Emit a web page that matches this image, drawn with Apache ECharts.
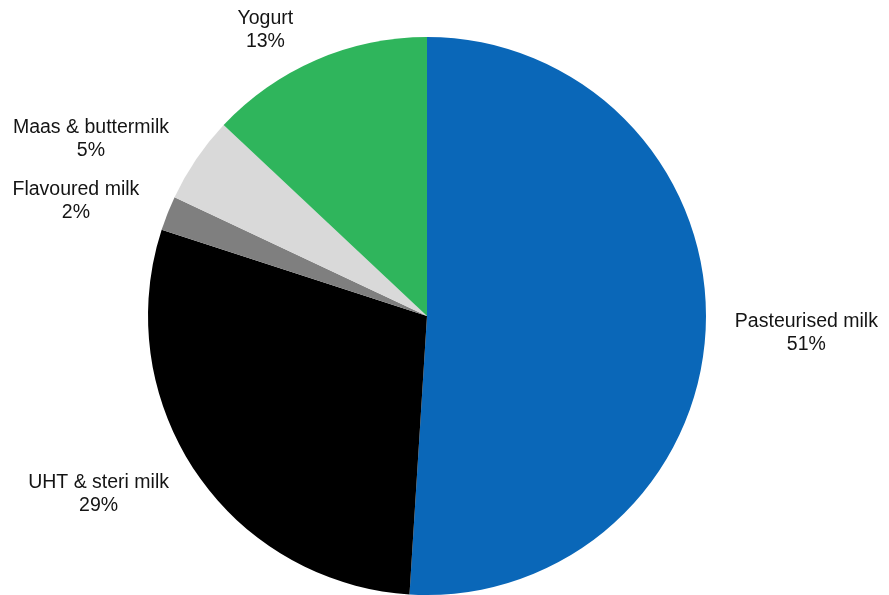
<!DOCTYPE html>
<html>
<head>
<meta charset="utf-8">
<title>Dairy products</title>
<script src="https://cdn.jsdelivr.net/npm/echarts@6/dist/echarts.min.js"></script>
<style>
  html, body { margin: 0; padding: 0; background: #ffffff; }
  #chart { width: 889px; height: 595px; }
</style>
</head>
<body>
<div id="chart"></div>
<script>
// Product categories, clockwise from twelve o'clock
var categories = ['Pasteurised milk', 'UHT & steri milk', 'Flavoured milk', 'Maas & buttermilk', 'Yogurt'];
// Share of volume, percent
var shares = [51, 29, 2, 5, 13];
var sliceColors = ['#0a67b8', '#000000', '#7f7f7f', '#d9d9d9', '#2fb55c'];

// Small vertical nudges for the outside labels
var labelNudge = [8, 16, -8, -14, -21];

var chart = echarts.init(document.getElementById('chart'), null, { renderer: 'canvas' });

chart.setOption({
  backgroundColor: '#ffffff',
  animation: false,
  series: [{
    type: 'pie',
    center: [427, 316],
    radius: [0, 279],
    startAngle: 90,
    clockwise: true,
    avoidLabelOverlap: false,
    itemStyle: { borderWidth: 0 },
    label: {
      show: true,
      position: 'outside',
      fontFamily: 'Liberation Sans, Arial, sans-serif',
      fontSize: 19.5,
      color: '#141414',
      formatter: function (p) {
        return '{c|' + p.name + '}\n{c|' + p.value + '%}';
      },
      rich: {
        c: {
          align: 'center',
          fontFamily: 'Liberation Sans, Arial, sans-serif',
          fontSize: 19.5,
          lineHeight: 23,
          color: '#141414'
        }
      }
    },
    labelLine: { show: false, length: 10, length2: 14 },
    labelLayout: function (params) {
      return { dy: labelNudge[params.dataIndex] };
    },
    data: categories.map(function (name, i) {
      return { name: name, value: shares[i], itemStyle: { color: sliceColors[i] } };
    })
  }]
});
</script>
</body>
</html>
